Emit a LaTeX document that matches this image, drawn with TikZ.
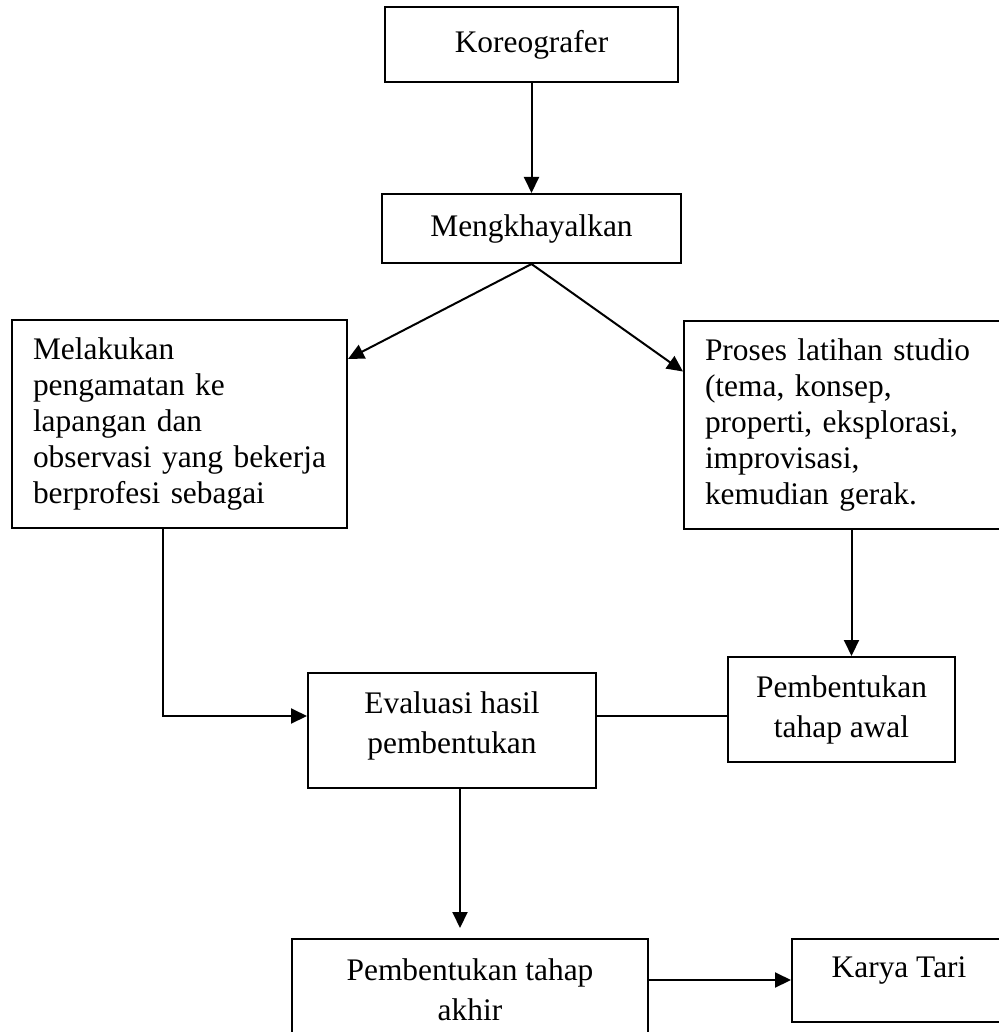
\documentclass[tikz,border=0pt]{standalone}
\usepackage{fontspec}
\setmainfont{Liberation Serif}
\usetikzlibrary{arrows.meta}

\begin{document}
\begin{tikzpicture}[x=0.5pt, y=-0.5pt, line width=1pt,
    kotak/.style={draw, align=center, inner sep=0pt,
      font=\fontsize{15.7}{20}\selectfont},
    catatan/.style={draw, align=left, inner xsep=10.5pt, inner ysep=0pt,
      text width=146.5pt, minimum height=104pt,
      font=\fontsize{15.7}{18}\selectfont},
    panah/.style={-{Triangle[length=8pt,width=7.5pt]}}]
    \useasboundingbox (0,0) rectangle (998,1032);
    \node [kotak, minimum width=146.5pt, minimum height=37.5pt] (kor) at (531.5,44.5) {Koreografer};
    \node [kotak, minimum width=149.5pt, minimum height=34.5pt] (meng) at (531.5,228.5) {Mengkhayalkan};
    \node [catatan] (lapang) at (179.5,424) {Melakukan\\ pengamatan ke\\ lapangan dan\\ observasi yang bekerja\\ berprofesi sebagai};
    \node [catatan] (proses) at (851.5,424.5) {Proses latihan studio\\ (tema, konsep,\\ properti, eksplorasi,\\ improvisasi,\\ kemudian gerak.};
    \node [kotak, minimum width=144pt, minimum height=57.5pt, text depth=8pt] (eval) at (452,730.5) {Evaluasi hasil\\ pembentukan};
    \node [kotak, minimum width=113.5pt, minimum height=52.5pt] (awal) at (841.5,709.5) {Pembentukan\\ tahap awal};
    \node [kotak, minimum width=178pt, minimum height=57pt, text depth=6pt] (akhir) at (470,996) {Pembentukan tahap\\ akhir};
    \node [kotak, minimum width=107pt, minimum height=41.5pt, text depth=13pt] (karya) at (899,980.5) {Karya Tari};

    \draw [panah] (kor.south) -- (meng.north);
    \draw [panah] (meng.south) -- ([yshift=-20pt]lapang.north east);
    \draw [panah] (meng.south) -- ([yshift=-26pt]proses.north west);
    \draw [panah] ([xshift=-8.25pt]lapang.south) |- ([yshift=7.25pt]eval.west);
    \draw [panah] (proses.south) -- (proses.south |- awal.north);
    \draw ([yshift=7.25pt]eval.east) -- ([yshift=7.25pt]eval.east -| awal.west);
    \draw [panah, shorten >=5pt] ([xshift=4pt]eval.south) -- ([xshift=4pt]eval.south |- akhir.north);
    \draw [panah] ([yshift=8pt]akhir.east) -- ([yshift=8pt]akhir.east -| karya.west);
\end{tikzpicture}
\end{document}
